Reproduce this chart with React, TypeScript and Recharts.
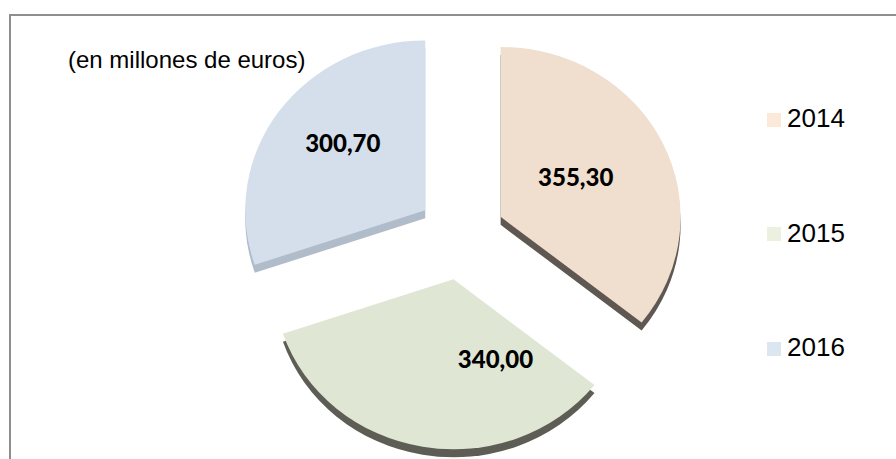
import { PieChart, Pie, Cell, Legend } from 'recharts'

const YEARS = ['2014', '2015', '2016']
const VALUES = [355.3, 340.0, 300.7]
const TOP_COLORS = ['#f0dece', '#dfe6d3', '#d5dfeb']
const SIDE_COLORS = ['#5f5852', '#5e5d55', '#b1bccb']
const LEGEND_COLORS = ['#fde9d9', '#ebf1de', '#dce6f1']

// pie geometry (Excel-like exploded 3D pie)
const CX = 461
const CY = 236
const R = 180
const SCALE_Y = 0.944
const EXPLODE = 44
const DEPTH = 8
const LABEL_NUDGE = [[-14, 0], [59, -13], [-2, -13]]

const RAD = Math.PI / 180
const total = VALUES.reduce((a, b) => a + b, 0)
let acc = 0
const MID = VALUES.map(v => {
  const m = ((acc + v / 2) / total) * 360
  acc += v
  return m
})

const data = YEARS.map((name, i) => ({ name, value: VALUES[i] }))

function sliceTransform(i: number, drop: number) {
  const dx = Math.sin(MID[i] * RAD) * EXPLODE
  const dy = -Math.cos(MID[i] * RAD) * EXPLODE + drop
  return {
    transform: `translate(${dx},${dy}) translate(${CX},${CY}) scale(1,${SCALE_Y}) translate(${-CX},${-CY})`,
  }
}

const fmt = (v: number) => v.toFixed(2).replace('.', ',')

function renderLabel(props: any) {
  const i = props.index ?? YEARS.indexOf(props.name)
  const m = 90 - props.midAngle
  const ex = Math.sin(m * RAD) * EXPLODE
  const ey = -Math.cos(m * RAD) * EXPLODE
  const k = 0.55 * props.outerRadius
  const x = props.cx + ex + Math.sin(m * RAD) * k + LABEL_NUDGE[i][0]
  const y = props.cy + ey - Math.cos(m * RAD) * k * SCALE_Y + LABEL_NUDGE[i][1]
  return (
    <text x={x} y={y} textAnchor="middle" dominantBaseline="central"
      style={{ fontFamily: 'Lato', fontWeight: 900, fontSize: 24, fill: '#000' }}>
      {fmt(props.value)}
    </text>
  )
}

function renderLegend(props: any) {
  const seen = new Set<string>()
  const items = (props.payload ?? []).filter((p: any) => {
    if (p.type === 'none' || seen.has(p.value)) return false
    seen.add(p.value)
    return true
  })
  return (
    <div style={{ fontFamily: '"Liberation Sans", Arial, sans-serif', fontSize: 26, color: '#000' }}>
      {items.map((p: any, i: number) => (
        <div key={p.value} style={{ display: 'flex', alignItems: 'center', height: 30, marginBottom: i < items.length - 1 ? 84.5 : 0 }}>
          <span style={{ display: 'inline-block', width: 14, height: 14, background: LEGEND_COLORS[YEARS.indexOf(p.value)], marginRight: 6, marginTop: 3 }} />
          <span style={{ lineHeight: '30px' }}>{p.value}</span>
        </div>
      ))}
    </div>
  )
}

export default function App() {
  return (
    <div style={{ position: 'fixed', left: 0, top: 0, width: 896, height: 459, background: '#fff', overflow: 'hidden' }}>
      <div style={{ position: 'absolute', left: 9, top: 14, width: 887, height: 445, borderTop: '2px solid #8e8e8e', borderLeft: '2px solid #8e8e8e' }} />
      <div style={{ position: 'absolute', left: 0, top: 0 }}>
        <PieChart width={896} height={459} margin={{ top: 0, right: 0, bottom: 0, left: 0 }}>
          <Pie data={data} dataKey="value" nameKey="name" cx={CX} cy={CY} outerRadius={R}
            startAngle={90} endAngle={-270} stroke="none" legendType="none" isAnimationActive={false}>
            {data.map((d, i) => (
              <Cell key={d.name} fill={SIDE_COLORS[i]} {...sliceTransform(i, DEPTH)} />
            ))}
          </Pie>
          <Pie data={data} dataKey="value" nameKey="name" cx={CX} cy={CY} outerRadius={R}
            startAngle={90} endAngle={-270} stroke="none" isAnimationActive={false}
            label={renderLabel} labelLine={false}>
            {data.map((d, i) => (
              <Cell key={d.name} fill={TOP_COLORS[i]} {...sliceTransform(i, 0)} />
            ))}
          </Pie>
          <Legend layout="vertical" align="right" verticalAlign="top" content={renderLegend}
            wrapperStyle={{ left: 767, top: 103, width: 120 }} />
        </PieChart>
      </div>
      <div style={{ position: 'absolute', left: 68, top: 48, fontFamily: '"Liberation Sans", Arial, sans-serif', fontSize: 24, lineHeight: '24px', color: '#000', whiteSpace: 'nowrap' }}>
        (en millones de euros)
      </div>
    </div>
  )
}
